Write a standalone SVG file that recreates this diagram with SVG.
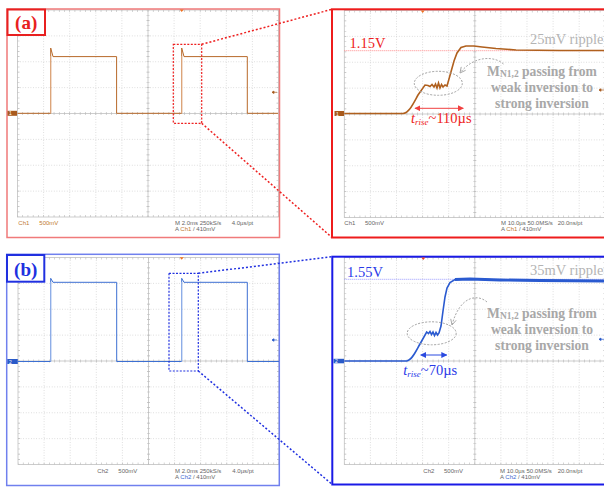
<svg xmlns="http://www.w3.org/2000/svg" width="604" height="487" viewBox="0 0 604 487">
<style>
.gl{fill:none;stroke:#c6c6c6;stroke-width:0.7;stroke-dasharray:0.8 1.8}
.gc{fill:none;stroke:#b8b8b8;stroke-width:0.7}
.tk{fill:none;stroke:#b8b8b8}
.scope{font-family:"Liberation Sans",Arial,sans-serif;font-size:6px;fill:#666}
.ann{font-family:"Liberation Serif","Times New Roman",serif;font-weight:bold;font-size:13.6px;fill:#a8a8a8}
.big{font-family:"Liberation Serif","Times New Roman",serif;font-size:14.5px}
.lbl{font-family:"Liberation Serif","Times New Roman",serif;font-weight:bold;font-size:19px}
.ell{fill:none;stroke:#a0a0a0;stroke-width:1;stroke-dasharray:2 1.5}
.carc{fill:none;stroke:#a8a8a8;stroke-width:1;stroke-dasharray:2 1.5;marker-end:url(#vhead)}
</style>
<defs>
<g id="grid">
<rect x="0" y="0" width="261" height="207" fill="none" stroke="#c0c0c0" stroke-width="0.8"/>
<path class="gl" d="M26.1,0V207M52.2,0V207M78.3,0V207M104.4,0V207M156.6,0V207M182.7,0V207M208.8,0V207M234.9,0V207M0,25.875H261M0,51.75H261M0,77.625H261M0,129.375H261M0,155.25H261M0,181.125H261"/>
<path class="gc" d="M130.5,0V207M0,103.5H261"/>
<path class="tk" stroke-width="3" stroke-dasharray="0.6 4.62" stroke-dashoffset="0.3" d="M0,103.5H261"/>
<path class="tk" stroke-width="3" stroke-dasharray="0.6 4.575" stroke-dashoffset="0.3" d="M130.5,0V207"/>
<path class="tk" stroke-width="2" stroke-dasharray="0.6 4.62" stroke-dashoffset="0.3" d="M0,1H261M0,206H261"/>
<path class="tk" stroke-width="2" stroke-dasharray="0.6 4.575" stroke-dashoffset="0.3" d="M1,0V207M260,0V207"/>
</g>
<marker id="vhead" viewBox="0 0 10 10" refX="9" refY="5" markerWidth="7" markerHeight="7" orient="auto" markerUnits="userSpaceOnUse">
<path d="M1,1L9,5L1,9" fill="none" stroke="#a8a8a8" stroke-width="1.3"/>
</marker>
<marker id="rArr" viewBox="0 0 10 10" refX="9" refY="5" markerWidth="6" markerHeight="6" orient="auto-start-reverse" markerUnits="userSpaceOnUse">
<path d="M0,0L10,5L0,10Z" fill="#f04040"/>
</marker>
<marker id="bArr" viewBox="0 0 10 10" refX="9" refY="5" markerWidth="6" markerHeight="6" orient="auto-start-reverse" markerUnits="userSpaceOnUse">
<path d="M0,0L10,5L0,10Z" fill="#2a4ae0"/>
</marker>
</defs>
<rect width="604" height="487" fill="#ffffff"/>

<!-- Panel (a) overview -->
<g id="panel-a-overview">
<use href="#grid" x="17.5" y="10"/>
<rect x="7" y="9" width="272.5" height="228.5" fill="none" stroke="#f07a7a" stroke-width="1.5"/>
<path d="M17.5,113.3H50.7V48L53,56.6H116.6V113.3H181.7V48L184,56.6H247.3V113.3H278" fill="none" stroke="#b8692a" stroke-width="1"/>
<path d="M50.7,113.3V56M181.7,113.3V56" stroke="#e8b890" stroke-width="0.8"/>
<rect x="7.5" y="110.8" width="9.5" height="5" fill="#a85a1c"/>
<text x="9" y="115.3" font-family="Liberation Sans,sans-serif" font-size="5" fill="#fff">1</text>
<path d="M179.7,9.5h4l-2,2.5z" fill="#f07020"/>
<path d="M272,92.3h5M272,92.3l2,-1.3v2.6z" stroke="#a85a1c" stroke-width="0.7" fill="#a85a1c"/>
<rect x="173.3" y="44.3" width="28.4" height="79" fill="none" stroke="#ee2020" stroke-width="1.2" stroke-dasharray="2 1.5"/>
<text class="scope" x="18.3" y="224.7"><tspan fill="#c07a30">Ch1</tspan><tspan x="39.3" fill="#c07a30">500mV</tspan></text>
<text class="scope" x="175" y="224.7">M 2.0ms 250kS/s<tspan x="231.7">4.0µs/pt</tspan></text>
<text class="scope" x="175" y="231.3">A <tspan fill="#c07a30">Ch1</tspan> / 410mV</text>
</g>

<g id="label-a">
<rect x="7.5" y="9.5" width="37.5" height="25.5" fill="#fff" stroke="#e82020" stroke-width="2"/>
<text class="lbl" x="26.2" y="28.5" text-anchor="middle" fill="#e82020">(a)</text>
</g>

<!-- Panel (a) zoom -->
<g id="panel-a-zoom">
<use href="#grid" x="344.3" y="10.5"/>
<rect x="332" y="9.3" width="280" height="228.2" fill="none" stroke="#ee1c1c" stroke-width="2"/>
<path d="M344.3,50.7H604" stroke="#ff8a8a" stroke-width="1" stroke-dasharray="1 1"/>
<path d="M344.3,113.5H403C409,113 413,104 418,95L425,85L428,85.5L430,86.5L432,84.5L434,87L435.5,84L437,88L438.5,83L440,88L441.5,84.5L443,87L445,85L447,86L449,79L451.5,70L454,61L457,53L461,47.5L466,46L474,46L482,47L496,48.5L516,50L560,50.5L604,50.5" fill="none" stroke="#b0601e" stroke-width="1.6"/>
<rect x="334.5" y="111" width="9.5" height="5" fill="#a85a1c"/>
<text x="336" y="115.5" font-family="Liberation Sans,sans-serif" font-size="5" fill="#fff">1</text>
<path d="M420.7,10.5h4l-2,2.5z" fill="#f07020"/>
<path d="M599,90h5M599,90l2,-1.3v2.6z" stroke="#a85a1c" stroke-width="0.7" fill="#a85a1c"/>
<text class="big" x="349.5" y="48.3" fill="#ee2222" font-size="15">1.15V</text>
<text class="big" x="530" y="44.3" fill="#b4b4b4" font-size="13.5">25mV ripple</text>
<ellipse class="ell" cx="438.3" cy="83.3" rx="24" ry="12"/>
<path class="carc" d="M503.5,64C495,56 474,55 460,73"/>
<text class="ann" x="542" y="76" text-anchor="middle">M<tspan font-size="9.5" dy="1">N1,2</tspan><tspan dy="-1"> passing from</tspan></text>
<text class="ann" x="542" y="92" text-anchor="middle">weak inversion to</text>
<text class="ann" x="542" y="108" text-anchor="middle">strong inversion</text>
<path d="M415,108.3H463.3" stroke="#f04040" stroke-width="1" marker-start="url(#rArr)" marker-end="url(#rArr)"/>
<text class="big" x="411" y="123.3" fill="#ee2222"><tspan font-style="italic">t</tspan><tspan font-style="italic" font-size="9" dy="1.5">rise</tspan><tspan dy="-1.5">~110µs</tspan></text>
<text class="scope" x="344.3" y="224.7" fill="#c07a30">Ch1<tspan x="365">500mV</tspan></text>
<text class="scope" x="501" y="224.7">M 10.0µs 50.0MS/s<tspan x="557.7">20.0ns/pt</tspan></text>
<text class="scope" x="501" y="231.3">A <tspan fill="#c07a30">Ch1</tspan> / 410mV</text>
</g>

<!-- Panel (b) overview -->
<g id="panel-b-overview">
<use href="#grid" x="18" y="257.5"/>
<rect x="6.7" y="254.3" width="272.6" height="231.2" fill="none" stroke="#7080ee" stroke-width="1.5"/>
<path d="M18,361.5H50.7V278.3L53,282.3H116.7V361.5H181.7V278.3L184,282.3H247.3V361.5H279" fill="none" stroke="#3c6fd2" stroke-width="1"/>
<path d="M50.7,361.5V282M181.7,361.5V282" stroke="#a8c0ee" stroke-width="0.8"/>
<rect x="7.3" y="359" width="10.5" height="5" fill="#2a5ac8"/>
<text x="9" y="363.5" font-family="Liberation Sans,sans-serif" font-size="5" fill="#fff">2</text>
<path d="M179.7,257.3h4l-2,2.5z" fill="#f07020"/>
<path d="M272,340h5M272,340l2,-1.3v2.6z" stroke="#2a5ac8" stroke-width="0.7" fill="#2a5ac8"/>
<rect x="169" y="273.3" width="29.3" height="97.7" fill="none" stroke="#2030e0" stroke-width="1.2" stroke-dasharray="2 1.5"/>
<text class="scope" x="97.3" y="473" fill="#3a6ad0">Ch2<tspan x="118.3">500mV</tspan></text>
<text class="scope" x="175" y="473">M 2.0ms 250kS/s<tspan x="232.3">4.0µs/pt</tspan></text>
<text class="scope" x="175" y="479">A <tspan fill="#3a6ad0">Ch2</tspan> / 410mV</text>
</g>

<g id="label-b">
<rect x="7" y="255" width="37.3" height="26.7" fill="#fff" stroke="#2030e0" stroke-width="2"/>
<text class="lbl" x="25.7" y="275.5" text-anchor="middle" fill="#2030e0">(b)</text>
</g>

<!-- Panel (b) zoom -->
<g id="panel-b-zoom">
<use href="#grid" x="344.3" y="257.5"/>
<rect x="332.3" y="256.7" width="280" height="227.8" fill="none" stroke="#1a1ae6" stroke-width="2"/>
<path d="M344.3,279.3H604" stroke="#9a9aff" stroke-width="1" stroke-dasharray="1 1"/>
<path d="M344.3,361H406.7C412,360.5 416,351 420,344L426.7,332L428.5,333.5L430,331.5L431.5,334.5L433,332L434.5,335.5L436,332.5L437.5,335L439,333L441,326L443,311L445,297L447,288L450,282.5L455,279.5L470,279L500,280L540,280.5L604,281" fill="none" stroke="#2a5ad0" stroke-width="1.6"/>
<path d="M455,279.5L470,279L500,280L540,280.5L604,281" fill="none" stroke="#2a5ad0" stroke-width="3"/>
<rect x="333.5" y="358.8" width="10.5" height="4.5" fill="#2a5ac8"/>
<text x="335" y="363" font-family="Liberation Sans,sans-serif" font-size="5" fill="#fff">2</text>
<path d="M421.3,257.5h4l-2,2.5z" fill="#f04020"/>
<path d="M599,339.3h5M599,339.3l2,-1.3v2.6z" stroke="#2a5ac8" stroke-width="0.7" fill="#2a5ac8"/>
<text class="big" x="347" y="276.5" fill="#2a3ae8" font-size="15">1.55V</text>
<text class="big" x="530" y="275" fill="#b4b4b4" font-size="13.5">35mV ripple</text>
<ellipse class="ell" cx="431.7" cy="333.3" rx="24.5" ry="11.5"/>
<path class="carc" d="M487,302C478,294 460,295 452,325"/>
<text class="ann" x="542" y="318" text-anchor="middle">M<tspan font-size="9.5" dy="1">N1,2</tspan><tspan dy="-1"> passing from</tspan></text>
<text class="ann" x="542" y="334" text-anchor="middle">weak inversion to</text>
<text class="ann" x="542" y="350" text-anchor="middle">strong inversion</text>
<path d="M420.7,355H446.7" stroke="#2a4ae0" stroke-width="1" marker-start="url(#bArr)" marker-end="url(#bArr)"/>
<text class="big" x="403.3" y="375" fill="#2a3ae8"><tspan font-style="italic">t</tspan><tspan font-style="italic" font-size="9" dy="1.5">rise</tspan><tspan dy="-1.5">~70µs</tspan></text>
<text class="scope" x="423.3" y="473" fill="#3a6ad0">Ch2<tspan x="444">500mV</tspan></text>
<text class="scope" x="500" y="473">M 10.0µs 50.0MS/s<tspan x="557.7">20.0ns/pt</tspan></text>
<text class="scope" x="500" y="479">A <tspan fill="#3a6ad0">Ch2</tspan> / 410mV</text>
</g>

<!-- Zoom connectors -->
<g id="connectors" fill="none" stroke-width="1.5" stroke-dasharray="2 2">
<path d="M201.7,44.3L332,9.3M201.7,123.3L332,237.5" stroke="#ee2020"/>
<path d="M198.3,273.3L332.3,256.7M198.3,371L332.3,484.5" stroke="#2030e0"/>
</g>
</svg>
